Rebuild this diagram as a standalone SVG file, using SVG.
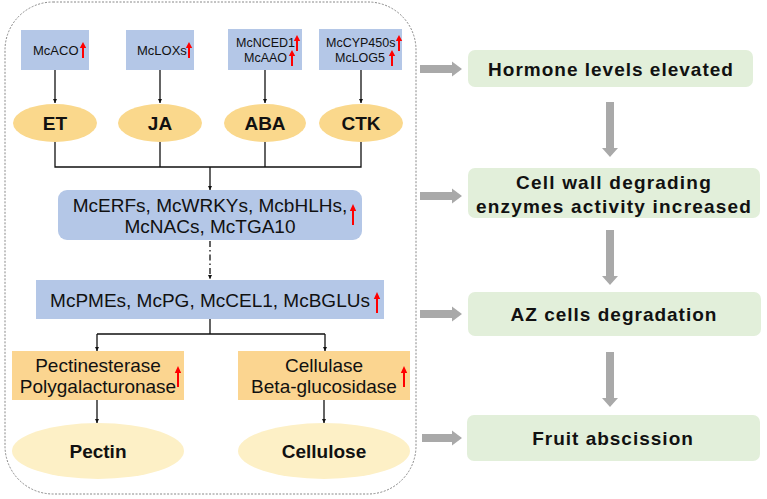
<svg xmlns="http://www.w3.org/2000/svg" width="767" height="499" viewBox="0 0 767 499">
<defs>
<style>
.t{font-family:"Liberation Sans",Arial,sans-serif;fill:#111}
.b{font-weight:bold}
.blue{fill:#b4c7e7}
.horm{fill:#fad88c}
.enz{fill:#fbd590}
.sub{fill:#fdf0c6}
.green{fill:#e2efda}
.gray{fill:#a9a9a9}
.red{fill:#ff0000}
.c{stroke:#111;stroke-width:1.3;fill:none}
</style>
<marker id="ah" viewBox="0 0 8 8" refX="8" refY="4" markerWidth="4" markerHeight="4" orient="auto" markerUnits="userSpaceOnUse">
<path d="M0,0 L8,4 L0,8 Z" fill="#111"/>
</marker>
<path id="up" d="M-1,16 L-1,6 L-3.2,6 L0,0 L3.2,6 L1,6 L1,16 Z"/>
<path id="upL" d="M-1,21 L-1,7 L-3.2,7 L0,0 L3.2,7 L1,7 L1,21 Z"/>
</defs>
<rect x="5" y="2" width="411" height="492" rx="48" ry="48" fill="none" stroke="#888" stroke-width="1" stroke-dasharray="2 1.5"/>
<g id="connectors">
<path class="c" d="M55,70 V103" marker-end="url(#ah)"/>
<path class="c" d="M160,70 V103" marker-end="url(#ah)"/>
<path class="c" d="M265,70 V103" marker-end="url(#ah)"/>
<path class="c" d="M361,70 V103" marker-end="url(#ah)"/>
<path class="c" d="M55,142 V167 H361 V142 M160,142 V167 M265,142 V167"/>
<path class="c" d="M210,167 V190" marker-end="url(#ah)"/>
<path class="c" d="M210,241 V279" stroke-dasharray="6 3 1.5 3" marker-end="url(#ah)"/>
<path class="c" d="M210,319 V334 M97,334 H325"/>
<path class="c" d="M97,334 V351" marker-end="url(#ah)"/>
<path class="c" d="M325,334 V351" marker-end="url(#ah)"/>
<path class="c" d="M97,400 V423" marker-end="url(#ah)"/>
<path class="c" d="M324,400 V423" marker-end="url(#ah)"/>
</g>
<g id="gray-arrows" class="gray">
<path d="M420,65 H452 V61.5 L462,69 L452,76.5 V73 H420 Z"/>
<path d="M420,192 H452 V188.5 L462,196 L452,203.5 V200 H420 Z"/>
<path d="M420,310 H452 V306.5 L462,314 L452,321.5 V318 H420 Z"/>
<path d="M422,434 H452 V430.5 L462,438 L452,445.5 V442 H422 Z"/>
<path d="M606,102 V148 H602 L610,157 L618,148 H614 V102 Z"/>
<path d="M606,230 V276 H602 L610,285 L618,276 H614 V230 Z"/>
<path d="M606,352 V398 H602 L610,407 L618,398 H614 V352 Z"/>
</g>
<g id="n-mcaco">
<rect class="blue" x="21" y="30" width="68" height="40"/>
<text class="t" x="33" y="55" font-size="13">McACO</text>
<use href="#up" class="red" x="83" y="42"/>
</g>
<g id="n-mclox">
<rect class="blue" x="126" y="30" width="68" height="40"/>
<text class="t" x="137" y="55" font-size="13">McLOXs</text>
<use href="#up" class="red" x="189" y="42"/>
</g>
<g id="n-mcnced">
<rect class="blue" x="228" y="29" width="74" height="41"/>
<text class="t" x="236" y="47" font-size="12.5">McNCED1</text>
<text class="t" x="244" y="62" font-size="12.5">McAAO</text>
<use href="#up" class="red" x="297" y="35" transform="scale(1)"/>
<use href="#up" class="red" x="292" y="50"/>
</g>
<g id="n-mccyp">
<rect class="blue" x="319" y="29" width="83" height="41"/>
<text class="t" x="326" y="47" font-size="12.5">McCYP450s</text>
<text class="t" x="335" y="62" font-size="12.5">McLOG5</text>
<use href="#up" class="red" x="399" y="35"/>
<use href="#up" class="red" x="392" y="50"/>
</g>
<g id="n-et">
<ellipse class="horm" cx="55" cy="123" rx="42" ry="19"/>
<text class="t b" x="55" y="130" font-size="19" text-anchor="middle">ET</text>
</g>
<g id="n-ja">
<ellipse class="horm" cx="160" cy="123" rx="42" ry="19"/>
<text class="t b" x="160" y="130" font-size="19" text-anchor="middle">JA</text>
</g>
<g id="n-aba">
<ellipse class="horm" cx="265" cy="123" rx="41" ry="19"/>
<text class="t b" x="265" y="130" font-size="19" text-anchor="middle">ABA</text>
</g>
<g id="n-ctk">
<ellipse class="horm" cx="361" cy="123" rx="42" ry="19"/>
<text class="t b" x="361" y="130" font-size="19" text-anchor="middle">CTK</text>
</g>
<g id="n-tf">
<rect class="blue" x="58" y="190" width="304" height="50" rx="9"/>
<text class="t" x="210" y="212" font-size="19" text-anchor="middle">McERFs, McWRKYs, McbHLHs,</text>
<text class="t" x="210" y="233" font-size="19" text-anchor="middle">McNACs, McTGA10</text>
<use href="#upL" class="red" x="353" y="204"/>
</g>
<g id="n-genes">
<rect class="blue" x="36" y="280" width="348" height="39"/>
<text class="t" x="210" y="307" font-size="19" text-anchor="middle">McPMEs, McPG, McCEL1, McBGLUs</text>
<use href="#upL" class="red" x="377" y="292"/>
</g>
<g id="n-pect-enz">
<rect class="enz" x="12" y="351" width="172" height="49"/>
<text class="t" x="98" y="372" font-size="19" text-anchor="middle">Pectinesterase</text>
<text class="t" x="98" y="393" font-size="19" text-anchor="middle">Polygalacturonase</text>
<use href="#upL" class="red" x="178" y="366"/>
</g>
<g id="n-cell-enz">
<rect class="enz" x="238" y="351" width="172" height="49"/>
<text class="t" x="324" y="372" font-size="19" text-anchor="middle">Cellulase</text>
<text class="t" x="324" y="393" font-size="19" text-anchor="middle">Beta-glucosidase</text>
<use href="#upL" class="red" x="404" y="366"/>
</g>
<g id="n-pectin">
<ellipse class="sub" cx="98" cy="451" rx="86" ry="28"/>
<text class="t b" x="98" y="458" font-size="19" text-anchor="middle">Pectin</text>
</g>
<g id="n-cellulose">
<ellipse class="sub" cx="324" cy="451" rx="86" ry="28"/>
<text class="t b" x="324" y="458" font-size="19" text-anchor="middle">Cellulose</text>
</g>
<g id="n-hormone">
<rect class="green" x="468" y="50" width="285" height="37" rx="7"/>
<text class="t b" x="611" y="76" font-size="19" letter-spacing="1" text-anchor="middle">Hormone levels elevated</text>
</g>
<g id="n-cellwall">
<rect class="green" x="468" y="168" width="292" height="50" rx="7"/>
<text class="t b" x="614" y="189" font-size="19" letter-spacing="1.2" text-anchor="middle">Cell wall degrading</text>
<text class="t b" x="614" y="213" font-size="19" letter-spacing="1.2" text-anchor="middle">enzymes activity increased</text>
</g>
<g id="n-az">
<rect class="green" x="468" y="292" width="293" height="44" rx="7"/>
<text class="t b" x="614" y="321" font-size="19" letter-spacing="1" text-anchor="middle">AZ cells degradation</text>
</g>
<g id="n-fruit">
<rect class="green" x="467" y="415" width="293" height="46" rx="7"/>
<text class="t b" x="613" y="445" font-size="19" letter-spacing="1" text-anchor="middle">Fruit abscission</text>
</g>
</svg>
